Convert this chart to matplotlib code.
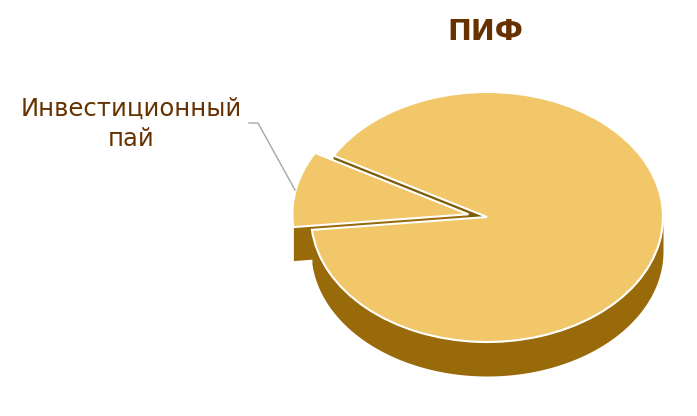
import numpy as np
import matplotlib
matplotlib.use("Agg")
import matplotlib.pyplot as plt

title = "ПИФ"
categories = ["", "Инвестиционный\nпай"]
shares = [90.2, 9.8]
explode = [0, 0.108]
start_angle = 185.9

TOP = "#F2C76A"
WALL = "#986A0A"
STRIP = "#7F5C05"
TEXT = "#663300"
W, H = 697, 416
CX, CY, RX, RY, DEPTH = 487, 217, 176, 125, 34

plt.rcParams["font.family"] = ["DejaVu Sans"]
fig = plt.figure(figsize=(W / 100, H / 100), dpi=100, facecolor="white")
ax = fig.add_axes([0, 0, 1, 1])
d = DEPTH / RY

wedges, _ = ax.pie(shares, explode=explode, startangle=start_angle, counterclock=True,
                   colors=[TOP, TOP], radius=1,
                   wedgeprops=dict(edgecolor="white", linewidth=1.5))
ax.set_aspect("auto")
ax.set_xlim(-CX / RX, (W - CX) / RX)
ax.set_ylim((CY - H) / RY, CY / RY)
ax.axis("off")

main_a0 = start_angle
main_a1 = start_angle + 360 * shares[0] / sum(shares)
slice_a1 = main_a1 + 360 * shares[1] / sum(shares)
mid = np.radians((main_a1 + slice_a1) / 2)
off = np.array([explode[1] * np.cos(mid), explode[1] * np.sin(mid)])


def rim(a):
    return np.array([np.cos(np.radians(a)), np.sin(np.radians(a))])


def face(a, origin, color, z):
    p = rim(a) + origin
    q = origin
    ax.fill([q[0], p[0], p[0], q[0]], [q[1], p[1], p[1] - d, q[1] - d],
            color=color, zorder=z, linewidth=0)


# main outer wall (front half)
t = np.radians(np.linspace(main_a0, 360, 200))
ax.fill_between(np.cos(t), np.sin(t) - d, np.sin(t), color=WALL, zorder=3, linewidth=0)
# cut face of the main body seen through the gap
face(main_a1, np.zeros(2), STRIP, 1)
# exploded slice: lower cut face and outer wall
face(slice_a1, off, WALL, 2)
px = rim(slice_a1) + off
ax.plot([px[0], px[0]], [px[1], px[1] - d], color="white", lw=1.2, zorder=2.5,
        solid_capstyle="butt")

wedges[1].set_zorder(4)
wedges[0].set_zorder(5)

# texts and leader, placed in pixel space
pix = fig.transFigure


def P(x, y):
    return x / W, 1 - y / H


fig.text(*P(485, 32), title, ha="center", va="center", fontsize=20.5, fontweight="bold", color=TEXT)
fig.text(*P(131, 124), categories[1], ha="center", va="center", fontsize=17.5, color=TEXT,
         linespacing=1.3)
xs, ys = zip(P(249, 123), P(258, 123), P(295, 190))
fig.add_artist(plt.Line2D(xs, ys, transform=pix, color="#A6A6A6", lw=1))

fig.savefig("out.png", dpi=100, facecolor="white")
